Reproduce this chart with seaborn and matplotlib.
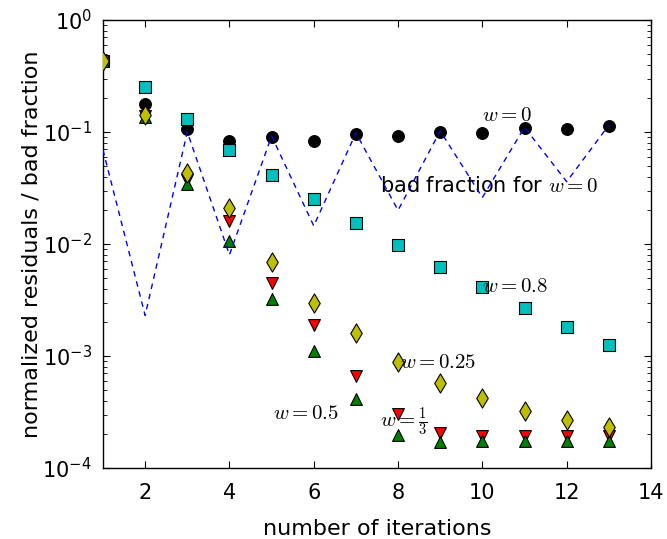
import numpy as np
import pandas as pd
import matplotlib
matplotlib.use("Agg")
import matplotlib.pyplot as plt
import seaborn as sns

# iteration counts
iterations = [1, 2, 3, 4, 5, 6, 7, 8, 9, 10, 11, 12, 13]

# normalized residuals for each relaxation weight w
res_w0 = [0.43, 0.178, 0.106, 0.083, 0.090, 0.083, 0.096, 0.092, 0.100, 0.098, 0.108, 0.106, 0.113]
res_w08 = [0.43, 0.25, 0.13, 0.069, 0.041, 0.025, 0.0154, 0.0098, 0.0062, 0.0041, 0.0027, 0.0018, 0.00126]
res_w13 = [0.43, 0.138, 0.037, 0.016, 0.0045, 0.0019, 0.00066, 0.000303, 0.000206, 0.000192, 0.000192, 0.000192, 0.000192]
res_w05 = [0.43, 0.135, 0.034, 0.0106, 0.0032, 0.0011, 0.00041, 0.000197, 0.00017, 0.000175, 0.000175, 0.000175, 0.000175]
res_w025 = [0.43, 0.142, 0.043, 0.021, 0.0069, 0.0030, 0.0016, 0.00089, 0.00057, 0.00042, 0.00032, 0.00027, 0.00023]

# fraction of bad cells for w = 0
bad_w0 = [0.069, 0.0023, 0.100, 0.0080, 0.092, 0.0145, 0.098, 0.020, 0.102, 0.026, 0.110, 0.036, 0.115]

plt.rcParams["font.family"] = ["DejaVu Sans"]
plt.rcParams["mathtext.fontset"] = "cm"

fig = plt.figure(figsize=(6.67, 5.39), dpi=100)
ax = fig.add_axes([0.1544, 0.1317, 0.8216, 0.8313])

series = [
    (res_w0, "o", "k"),
    (res_w08, "s", "c"),
    (res_w13, "v", "r"),
    (res_w05, "^", "g"),
    (res_w025, "d", "y"),
]
for vals, mk, col in series:
    df = pd.DataFrame({"it": iterations, "res": vals})
    sns.scatterplot(data=df, x="it", y="res", marker=mk, color=col,
                    s=72 if mk != "d" else 95, edgecolor="k", linewidth=0.8,
                    ax=ax, zorder=3, legend=False)

dfb = pd.DataFrame({"it": iterations, "bad": bad_w0})
sns.lineplot(data=dfb, x="it", y="bad", color="b", linewidth=1.0,
             linestyle=(0, (4.0, 3.5)), ax=ax, zorder=4, legend=False)

# keep markers inside the plotting area
for coll in ax.collections:
    coll.set_clip_on(True)
    coll.set_clip_path(ax.patch)

ax.set_yscale("log")
ax.set_xlim(1, 14)
ax.set_ylim(1e-4, 1)
ax.set_xticks([2, 4, 6, 8, 10, 12, 14])

ax.tick_params(which="both", direction="in", top=True, right=True, labelsize=15)
ax.tick_params(which="major", length=5, width=0.8)
ax.tick_params(which="minor", length=3, width=0.6)
ax.tick_params(axis="y", which="major", pad=8)
ax.tick_params(axis="x", which="major", pad=11)
for sp in ax.spines.values():
    sp.set_linewidth(1.0)

ax.set_xlabel("number of iterations", fontsize=16, labelpad=11)
ax.set_ylabel("normalized residuals / bad fraction", fontsize=16, labelpad=1)

ax.text(10.0, 0.126, r"$w=0$", fontsize=15, ha="left", va="baseline")
ax.text(7.57, 0.029, r"bad fraction for $w=0$", fontsize=15, ha="left", va="baseline")
ax.text(10.0, 0.0037, r"$w=0.8$", fontsize=15, ha="left", va="baseline")
ax.text(8.05, 0.00078, r"$w=0.25$", fontsize=15, ha="left", va="baseline")
ax.text(5.03, 0.000275, r"$w=0.5$", fontsize=15, ha="left", va="baseline")
ax.text(7.57, 0.000234, r"$w=\frac{1}{3}$", fontsize=15, ha="left", va="baseline")

fig.savefig("out.png", dpi=100)
